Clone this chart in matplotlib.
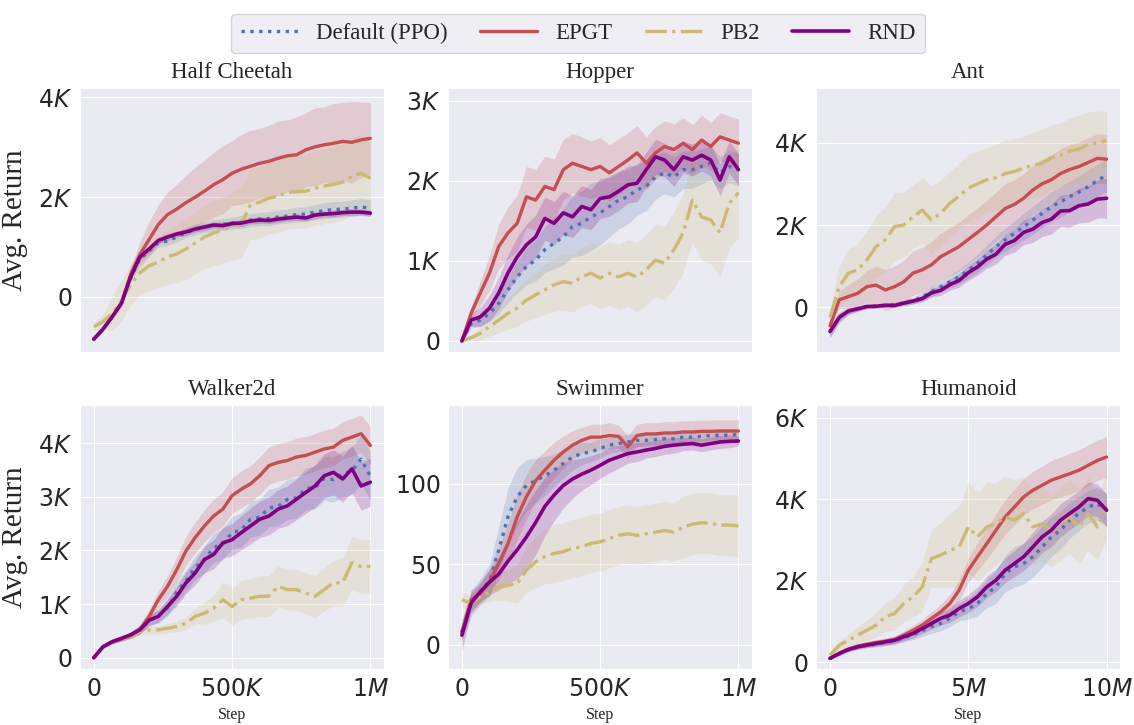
import numpy as np
import matplotlib.pyplot as plt
import seaborn as sns

# ---- data ----
steps_1m = np.linspace(0, 1e6, 31)
steps_10m = np.linspace(0, 1e7, 31)

# Half Cheetah
hc_ppo = [-850, -650, -400, -130, 380, 760, 920, 1080, 1120, 1200, 1290, 1350, 1400, 1430, 1450, 1480,
          1500, 1540, 1560, 1570, 1600, 1620, 1650, 1660, 1700, 1730, 1750, 1760, 1780, 1800, 1780]
hc_ppo_sd = [20, 30, 40, 50, 60, 70, 80, 90, 90, 100, 100, 110, 110, 120, 120, 120,
             130, 130, 130, 140, 140, 140, 150, 150, 150, 160, 160, 160, 170, 170, 170]
hc_epgt = [-850, -650, -400, -120, 450, 850, 1150, 1450, 1650, 1760, 1890, 2000, 2120, 2250, 2350, 2480,
           2560, 2620, 2680, 2720, 2780, 2830, 2850, 2950, 3010, 3050, 3080, 3120, 3100, 3150, 3180]
hc_epgt_sd = [20, 30, 50, 80, 150, 250, 350, 400, 450, 500, 550, 600, 620, 650, 680, 650,
              700, 720, 700, 720, 750, 720, 760, 740, 780, 760, 800, 780, 820, 760, 720]
hc_pb2 = [-600, -500, -330, -80, 250, 480, 620, 700, 800, 860, 960, 1080, 1200, 1280, 1340, 1420,
          1470, 1850, 1900, 1980, 2020, 2100, 2110, 2120, 2180, 2220, 2260, 2300, 2420, 2480, 2380]
hc_pb2_sd = [80, 150, 350, 400, 420, 450, 500, 520, 550, 580, 600, 620, 640, 650, 660, 680,
             700, 700, 720, 720, 730, 740, 740, 740, 750, 750, 760, 760, 780, 780, 700]
hc_rnd = [-850, -650, -400, -130, 400, 800, 960, 1130, 1200, 1260, 1300, 1360, 1400, 1440, 1430, 1470,
          1480, 1520, 1540, 1530, 1560, 1580, 1600, 1580, 1640, 1660, 1670, 1690, 1700, 1700, 1680]
hc_rnd_sd = [20, 30, 40, 50, 60, 60, 70, 60, 70, 60, 70, 60, 70, 60, 70, 60,
             70, 60, 70, 60, 70, 60, 70, 60, 70, 60, 70, 60, 70, 60, 60]

# Hopper
hop_ppo = [0, 220, 260, 345, 470, 640, 800, 930, 1010, 1140, 1220, 1300, 1430, 1470, 1550, 1600,
           1680, 1760, 1800, 1890, 1930, 2050, 2100, 2050, 2140, 2140, 2180, 2220, 2100, 2180, 2140]
hop_ppo_sd = [10, 60, 80, 100, 130, 160, 200, 230, 260, 290, 320, 350, 380, 400, 420, 400,
              380, 360, 340, 320, 300, 280, 260, 250, 240, 230, 220, 210, 200, 200, 200]
hop_epgt = [0, 345, 600, 850, 1180, 1350, 1470, 1800, 1760, 1930, 1890, 2140, 2220, 2180, 2140, 2180,
            2100, 2180, 2260, 2350, 2220, 2350, 2430, 2390, 2470, 2390, 2510, 2430, 2550, 2510, 2470]
hop_epgt_sd = [10, 80, 150, 220, 280, 320, 350, 380, 380, 380, 380, 380, 370, 370, 360, 360,
               350, 350, 340, 340, 330, 330, 320, 320, 320, 310, 310, 300, 300, 300, 300]
hop_pb2 = [0, 40, 95, 180, 260, 345, 410, 510, 575, 640, 700, 740, 720, 800, 845, 785,
           845, 800, 845, 800, 890, 1010, 970, 1140, 1350, 1760, 1550, 1510, 1350, 1720, 1850]
hop_pb2_sd = [10, 40, 80, 120, 160, 200, 230, 260, 290, 310, 330, 350, 360, 370, 380, 390,
              400, 410, 420, 430, 440, 450, 460, 480, 500, 520, 540, 550, 550, 560, 560]
hop_rnd = [0, 262, 300, 410, 600, 850, 1050, 1200, 1300, 1530, 1470, 1600, 1550, 1680, 1640, 1780,
           1800, 1870, 1950, 1970, 2140, 2300, 2260, 2140, 2300, 2260, 2320, 2260, 2010, 2300, 2140]
hop_rnd_sd = [10, 80, 120, 160, 200, 230, 250, 260, 270, 270, 270, 270, 260, 260, 250, 250,
              240, 240, 230, 230, 220, 220, 210, 210, 200, 200, 200, 200, 200, 200, 200]

# Ant
ant_ppo = [-590, -240, -100, -30, 20, 30, 45, 60, 110, 160, 250, 380, 500, 620, 745, 900,
           1070, 1270, 1475, 1640, 1800, 1960, 2120, 2280, 2445, 2560, 2690, 2800, 2930, 3080, 3215]
ant_ppo_sd = [150, 120, 80, 60, 50, 50, 50, 60, 70, 80, 100, 120, 140, 160, 180, 200,
              220, 240, 260, 280, 300, 320, 340, 350, 360, 370, 380, 390, 400, 400, 400]
ant_epgt = [-450, 180, 260, 340, 500, 540, 420, 500, 620, 830, 910, 1030, 1230, 1350, 1475, 1650,
            1820, 2000, 2200, 2400, 2500, 2650, 2850, 3000, 3100, 3250, 3350, 3420, 3520, 3620, 3600]
ant_epgt_sd = [100, 200, 300, 350, 400, 450, 500, 500, 520, 540, 550, 560, 570, 580, 590, 600,
               600, 600, 600, 600, 600, 600, 600, 600, 600, 600, 600, 600, 600, 600, 600]
ant_pb2 = [-250, 500, 830, 910, 1150, 1475, 1640, 1960, 2000, 2200, 2365, 2120, 2285, 2530, 2700, 2900,
           3000, 3100, 3150, 3250, 3300, 3380, 3450, 3500, 3640, 3700, 3800, 3850, 3950, 4000, 4050]
ant_pb2_sd = [200, 500, 600, 650, 700, 750, 800, 820, 800, 780, 800, 820, 800, 780, 800, 820,
              800, 780, 800, 820, 800, 780, 800, 820, 800, 780, 800, 820, 800, 780, 700]
ant_rnd = [-590, -250, -90, -40, 20, 25, 50, 45, 100, 150, 210, 350, 410, 550, 650, 840,
           980, 1170, 1290, 1530, 1620, 1820, 1900, 2060, 2140, 2340, 2350, 2470, 2510, 2630, 2650]
ant_rnd_sd = [150, 120, 80, 60, 50, 50, 50, 50, 60, 70, 80, 100, 120, 140, 160, 180,
              200, 220, 240, 260, 280, 300, 320, 340, 360, 380, 400, 420, 440, 460, 480]

# Walker2d
wk_ppo = [0, 205, 300, 360, 425, 520, 690, 780, 930, 1220, 1430, 1680, 1830, 2050, 2120, 2330,
          2380, 2580, 2620, 2790, 2820, 2950, 2980, 3150, 3170, 3340, 3320, 3420, 3480, 3700, 3380]
wk_ppo_sd = [10, 30, 40, 50, 60, 80, 100, 120, 150, 180, 200, 220, 250, 270, 290, 300,
             320, 330, 340, 350, 360, 370, 380, 390, 400, 410, 420, 430, 440, 450, 450]
wk_epgt = [0, 205, 300, 360, 425, 530, 770, 1080, 1330, 1640, 1990, 2240, 2455, 2640, 2770, 3020,
           3140, 3240, 3390, 3580, 3640, 3675, 3740, 3770, 3830, 3890, 3925, 4050, 4110, 4175, 3955]
wk_epgt_sd = [10, 30, 40, 50, 60, 80, 120, 160, 200, 240, 270, 290, 300, 310, 320, 330,
              340, 340, 350, 350, 350, 350, 350, 350, 350, 350, 350, 350, 350, 350, 350]
wk_pb2 = [0, 205, 300, 350, 400, 480, 520, 520, 550, 580, 645, 770, 830, 925, 1080, 955,
          1080, 1110, 1145, 1150, 1330, 1270, 1270, 1200, 1145, 1270, 1395, 1400, 1770, 1700, 1700]
wk_pb2_sd = [10, 20, 30, 40, 50, 60, 70, 80, 90, 100, 120, 150, 200, 250, 330, 350,
             360, 370, 380, 380, 380, 380, 380, 380, 390, 400, 420, 450, 500, 500, 500]
wk_rnd = [0, 205, 300, 360, 425, 520, 700, 770, 955, 1145, 1395, 1580, 1830, 1925, 2140, 2200,
          2330, 2455, 2580, 2640, 2770, 2830, 2955, 3080, 3200, 3390, 3455, 3330, 3520, 3200, 3270]
wk_rnd_sd = [10, 30, 40, 50, 60, 80, 100, 120, 150, 180, 200, 220, 250, 270, 290, 300,
             320, 330, 340, 350, 360, 370, 380, 390, 400, 410, 420, 430, 440, 450, 450]

# Swimmer
sw_ppo = [8, 26, 33, 40, 59, 79.5, 92, 99, 102, 105, 108.5, 112.6, 116.7, 118.8, 119.8, 122,
          124, 125, 126, 127, 127, 127.5, 128, 128, 129, 129, 129.5, 130, 130.2, 130.2, 130.6]
sw_ppo_sd = [5, 8, 8, 10, 14, 18, 18, 16, 14, 12, 10, 9, 8, 7, 6, 6,
             5, 5, 5, 4, 4, 4, 4, 4, 3, 3, 3, 3, 3, 3, 3]
sw_epgt = [8, 28, 32, 39, 50.6, 63, 79.5, 92, 102, 108.5, 114.7, 119.8, 124, 127, 129, 129,
           130, 129.5, 123, 130, 131, 131, 131.6, 131.6, 132.2, 132.2, 132.6, 132.6, 132.8, 132.8, 132.8]
sw_epgt_sd = [5, 6, 6, 8, 10, 12, 14, 14, 13, 12, 11, 10, 9, 8, 8, 8,
              8, 7, 7, 7, 7, 7, 7, 7, 7, 7, 7, 7, 7, 7, 7]
sw_pb2 = [28, 26, 30, 33, 36, 37, 38, 46.5, 51.6, 54.8, 56.8, 57.9, 60, 61, 63, 64,
          66, 68, 69, 68, 69, 70, 71, 70, 73, 75, 75.8, 75.4, 74.4, 74.4, 73.8]
sw_pb2_sd = [5, 5, 5, 6, 8, 10, 12, 14, 16, 17, 18, 18, 18, 18, 18, 18,
             18, 18, 18, 18, 18, 18, 18, 18, 19, 19, 19, 19, 19, 19, 19]
sw_rnd = [6, 26, 33, 39, 44, 52, 59, 67, 76, 86, 93, 99, 103, 106, 108.5, 111.5,
          114.7, 116.7, 118.8, 119.8, 121, 122, 123.3, 124, 124.6, 125, 124, 125, 126, 126.4, 126.6]
sw_rnd_sd = [10, 6, 6, 8, 10, 14, 18, 20, 20, 18, 16, 14, 12, 10, 9, 8,
             8, 7, 6, 6, 5, 5, 5, 5, 4, 4, 4, 4, 4, 4, 3]

# Humanoid
hum_ppo = [100, 210, 310, 375, 415, 450, 490, 530, 600, 680, 780, 880, 955, 1080, 1240, 1320,
           1445, 1690, 1850, 2180, 2340, 2425, 2590, 2830, 3075, 3240, 3485, 3650, 3810, 3890, 3730]
hum_ppo_sd = [20, 40, 50, 60, 60, 70, 80, 90, 100, 120, 140, 160, 180, 200, 220, 260,
              300, 350, 400, 450, 500, 500, 500, 500, 480, 460, 440, 420, 400, 400, 400]
hum_epgt = [100, 230, 330, 400, 450, 490, 520, 560, 670, 790, 915, 1080, 1240, 1445, 1770, 2260,
            2590, 2910, 3240, 3565, 3810, 4055, 4220, 4340, 4465, 4545, 4625, 4710, 4830, 4950, 5035]
hum_epgt_sd = [20, 40, 50, 60, 60, 70, 80, 90, 100, 120, 140, 160, 180, 220, 260, 300,
               340, 380, 400, 420, 440, 450, 460, 470, 480, 490, 500, 500, 500, 500, 500]
hum_pb2 = [180, 425, 545, 670, 790, 915, 1120, 1200, 1445, 1610, 1850, 2545, 2630, 2750, 2830, 3320,
           3075, 3320, 3400, 3565, 3485, 3650, 3320, 3400, 3240, 3400, 3565, 3320, 3650, 3320, 3810]
hum_pb2_sd = [60, 100, 150, 200, 250, 300, 350, 400, 450, 500, 600, 700, 800, 900, 1000, 1100,
              1100, 1100, 1000, 1000, 1000, 900, 900, 900, 900, 900, 900, 900, 900, 800, 800]
hum_rnd = [100, 220, 320, 385, 425, 465, 505, 545, 630, 710, 830, 955, 1080, 1160, 1320, 1445,
           1610, 1850, 2015, 2260, 2425, 2590, 2830, 3075, 3240, 3485, 3650, 3810, 4015, 3975, 3730]
hum_rnd_sd = [20, 40, 50, 60, 60, 70, 80, 90, 100, 110, 120, 140, 160, 180, 200, 220,
              240, 260, 280, 300, 320, 340, 360, 380, 400, 400, 400, 400, 400, 400, 400]

titles = ['Half Cheetah', 'Hopper', 'Ant', 'Walker2d', 'Swimmer', 'Humanoid']
methods = ['Default (PPO)', 'EPGT', 'PB2', 'RND']
colors = ['#4c72b0', '#c44e52', '#ccb974', '#800080']
styles = [':', '-', '-.', '-']
widths = [2.4, 2.4, 2.4, 2.6]

panels = [
    (steps_1m, [(hc_ppo, hc_ppo_sd), (hc_epgt, hc_epgt_sd), (hc_pb2, hc_pb2_sd), (hc_rnd, hc_rnd_sd)]),
    (steps_1m, [(hop_ppo, hop_ppo_sd), (hop_epgt, hop_epgt_sd), (hop_pb2, hop_pb2_sd), (hop_rnd, hop_rnd_sd)]),
    (steps_1m, [(ant_ppo, ant_ppo_sd), (ant_epgt, ant_epgt_sd), (ant_pb2, ant_pb2_sd), (ant_rnd, ant_rnd_sd)]),
    (steps_1m, [(wk_ppo, wk_ppo_sd), (wk_epgt, wk_epgt_sd), (wk_pb2, wk_pb2_sd), (wk_rnd, wk_rnd_sd)]),
    (steps_1m, [(sw_ppo, sw_ppo_sd), (sw_epgt, sw_epgt_sd), (sw_pb2, sw_pb2_sd), (sw_rnd, sw_rnd_sd)]),
    (steps_10m, [(hum_ppo, hum_ppo_sd), (hum_epgt, hum_epgt_sd), (hum_pb2, hum_pb2_sd), (hum_rnd, hum_rnd_sd)]),
]

yticks = [[0, 2000, 4000], [0, 1000, 2000, 3000], [0, 2000, 4000],
          [0, 1000, 2000, 3000, 4000], [0, 50, 100], [0, 2000, 4000, 6000]]
ylims = [(-1110, 4190), (-140, 3160), (-1090, 5330), (-210, 4710), (-15, 149), (-160, 6310)]
xticks = [[0, 5e5, 1e6], [0, 5e5, 1e6], [0, 5e6, 1e7]]


def fmt(v):
    if v >= 1e6:
        return r'$%gM$' % (v / 1e6)
    if v >= 1000:
        return r'$%gK$' % (v / 1000)
    return r'$%g$' % v


sns.set_style('darkgrid')
plt.rcParams['font.family'] = ['DejaVu Sans']
plt.rcParams['mathtext.fontset'] = 'dejavusans'
serif = ['Liberation Serif', 'DejaVu Serif']

fig, axes = plt.subplots(2, 3, figsize=(11.34, 7.25), dpi=100)
fig.subplots_adjust(left=0.0705, right=0.988, top=0.8786, bottom=0.0772, wspace=0.21, hspace=0.2)

for k, ax in enumerate(axes.flat):
    steps, series = panels[k]
    for (mean, sd), c, ls, lw, name in zip(series, colors, styles, widths, methods):
        mean = np.array(mean)
        sd = np.array(sd)
        ax.fill_between(steps, mean - sd, mean + sd, color=c, alpha=0.2, lw=0)
        ax.plot(steps, mean, color=c, ls=ls, lw=lw, label=name)
    ax.set_title(titles[k], fontsize=16.5, family=serif, color='#262626', pad=7)
    ax.set_ylim(*ylims[k])
    ax.set_yticks(yticks[k])
    ax.set_yticklabels([fmt(v) for v in yticks[k]])
    ax.tick_params(labelsize=17, colors='#262626', pad=2)
    if k < 3:
        ax.set_xticks([])
    else:
        xt = xticks[k - 3]
        ax.set_xticks(xt)
        ax.set_xticklabels([fmt(v) for v in xt])
        ax.set_xlabel('Step', fontsize=11.5, family=serif, color='#262626')
        ax.xaxis.set_label_coords(0.5, -0.145)
    if k % 3 == 0:
        ax.set_ylabel('Avg. Return', fontsize=21, family=serif, color='#262626')
        ax.yaxis.set_label_coords(-0.17, 0.5)

handles, labels = axes[0, 0].get_legend_handles_labels()
leg = fig.legend(handles, labels, loc='upper center', bbox_to_anchor=(0.51, 0.997), ncol=4,
                 prop={'family': serif, 'size': 16.5}, handlelength=2.5, columnspacing=1.4,
                 frameon=True, fancybox=True)
leg.get_frame().set_facecolor('#eaeaf2')
leg.get_frame().set_edgecolor('#cccccc')

fig.savefig('out.png', dpi=100)
